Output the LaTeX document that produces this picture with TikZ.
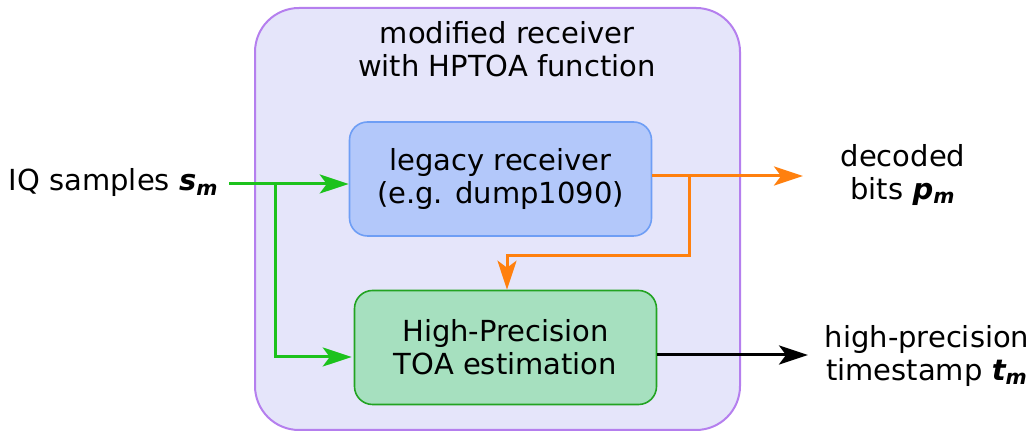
\documentclass[tikz,border=0pt]{standalone}
\usepackage{fontspec}
\setmainfont{DejaVu Sans}
\usetikzlibrary{shapes,arrows.meta}
\usetikzlibrary{calc}
\usetikzlibrary{positioning}
\definecolor{outerfill}{HTML}{E5E5FA}
\definecolor{outerdraw}{HTML}{B57FEE}
\definecolor{legacyfill}{HTML}{B3C8FA}
\definecolor{legacydraw}{HTML}{6E9EF5}
\definecolor{hpfill}{HTML}{A6E0BF}
\definecolor{hpdraw}{HTML}{22A322}
\definecolor{iqgreen}{HTML}{1CC21C}
\definecolor{bitsorange}{HTML}{FF800E}
\tikzstyle{outer} = [draw=outerdraw, fill=outerfill, line width=1pt, rectangle,
    rounded corners=22pt, minimum width=242.5pt, minimum height=211pt]
\tikzstyle{block} = [draw, rectangle, line width=0.8pt, rounded corners=9pt,
    align=center, minimum height=57pt, minimum width=151pt]
\tikzstyle{label} = [align=center, inner sep=0pt]
\tikzstyle{wire} = [line width=1.5pt, ->]
\newcommand{\bvec}[1]{\textbf{\textit{#1\textsubscript{m}}}}

\begin{document}
\begin{tikzpicture}[x=1pt, y=1pt, >={Stealth[length=14.5pt,width=9.5pt,inset=3.5pt]},
    font=\fontsize{14.5}{16.5}\selectfont]
      \useasboundingbox (0,0) rectangle (516,216);
      \node [outer] (receiver) at (248.75,106.5) {};
      \node [label] (title) at (253.5,191.5) {modified receiver\\with HPTOA function};
      \node [block, draw=legacydraw, fill=legacyfill] (legacy) at (250.25,126.5)
          {legacy receiver\\(e.g. dump1090)};
      \node [block, draw=hpdraw, fill=hpfill] (hptoa) at (252.75,42.25)
          {High-Precision\\TOA estimation};
      \node [label, anchor=east] (iq) at (109.5,124.5) {IQ samples \bvec{s}};
      \node [label] (bits) at (451.5,128.5) {decoded\\bits \bvec{p}};
      \node [label] (stamp) at (463.5,38) {high-precision\\timestamp \bvec{t}};

      % input split
      \coordinate (split) at (137.5,124);
      \draw [wire, draw=iqgreen] ($(iq.east)+(5,-0.5)$) -- (split) -- (split -| legacy.west);
      \draw [wire, draw=iqgreen] (split) |- ($(hptoa.west)+(-1,-4.75)$);

      % decoded bits
      \coordinate (tap) at (344.5,128);
      \coordinate (drop) at (253.5,88);
      \draw [wire, draw=bitsorange] (legacy.east |- tap) -- (401.5,128);
      \draw [wire, draw=bitsorange] (tap) |- (drop) -- (drop |- hptoa.north);

      % timestamp
      \coordinate (out) at (404,38.5);
      \draw [wire] (hptoa.east |- out) -- (out);
    \end{tikzpicture}
\end{document}
